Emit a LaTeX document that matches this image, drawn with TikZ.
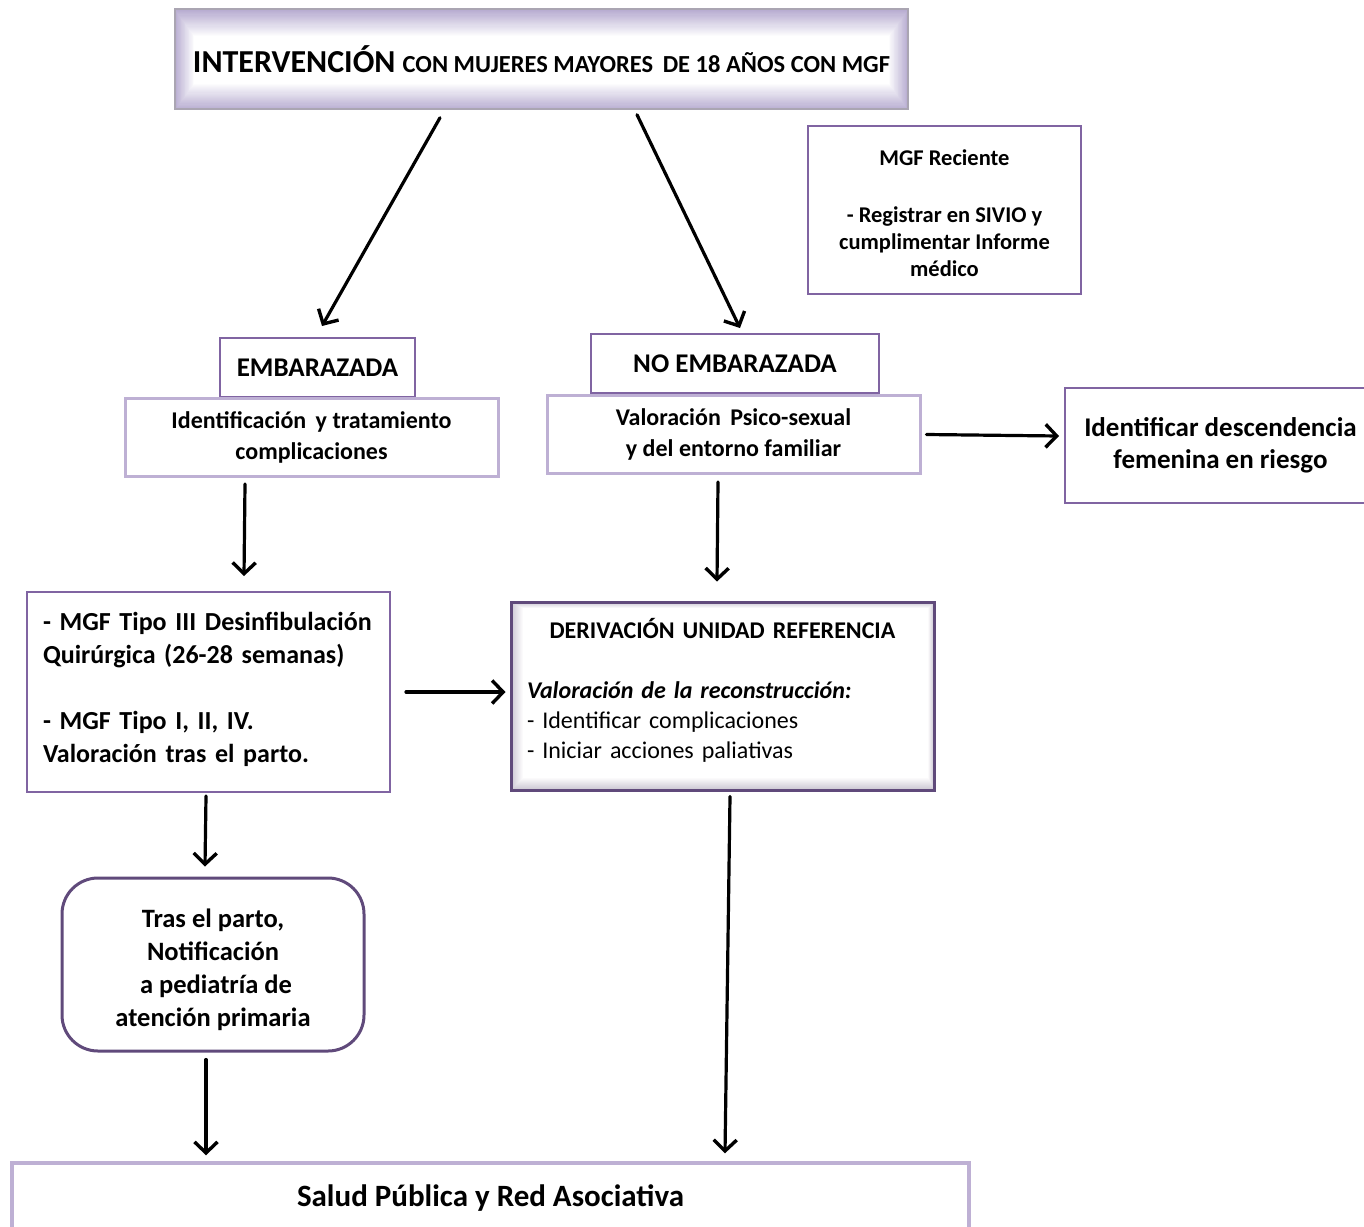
\documentclass[tikz,border=0pt]{standalone}
\usepackage{fontspec}
\setmainfont{Carlito}
\usetikzlibrary{arrows.meta,calc}
\definecolor{boxpurple}{RGB}{128,100,162}
\definecolor{darkpurple}{RGB}{96,74,123}
\definecolor{lavender}{RGB}{190,176,212}
\definecolor{glowc}{RGB}{176,164,204}
\definecolor{shadowc}{RGB}{150,140,165}
\definecolor{edgegray}{RGB}{170,165,178}
\newcommand{\fs}[2]{\fontsize{#1}{#2}\selectfont}
\tikzset{
  box/.style={draw=boxpurple, line width=2pt, fill=white, rectangle, inner sep=0pt, align=center, font=\bfseries},
  softbox/.style={draw=lavender, line width=3pt, fill=white, rectangle, inner sep=0pt, align=center, font=\bfseries},
  arr/.style={line width=3.2pt, line cap=round, line join=round, -{Straight Barb[length=11pt,width=23pt,line width=3.4pt]}},
}
\begin{document}
\begin{tikzpicture}[x=1pt,y=-1pt]
\useasboundingbox (0,0) rectangle (1364,1226);
\clip (0,0) rectangle (1364,1226);

% title box with soft inner glow
\foreach \i in {0,...,24}{
  \pgfmathsetmacro{\k}{90-\i*3.75}
  \fill[glowc!\k!white] (175+\i*0.8,10+\i*1.1) rectangle (908-\i*0.8,110-\i*1.1);
}
\node[rectangle, draw=edgegray, line width=1.5pt, minimum width=733pt, minimum height=100pt, inner sep=0pt] (top) at (541.5,59)
  {\bfseries\fs{32}{36}INTERVENCIÓN \fs{24.5}{28}CON MUJERES MAYORES\, DE 18 AÑOS CON MGF};

\node[box, minimum width=273pt, minimum height=168pt, font=\bfseries\fs{22.5}{27}] (rec) at (944.5,210)
  {\rule{0pt}{22pt}MGF Reciente\\[30pt]- Registrar en SIVIO y\\cumplimentar Informe\\médico};

\node[box, minimum width=195pt, minimum height=59pt, font=\bfseries\fs{27}{30}] (emb) at (317.5,367.5) {EMBARAZADA};
\node[softbox, minimum width=373pt, minimum height=78pt, font=\bfseries\fs{24}{31}] (idc) at (311.5,437.5)
  {Identificación\, y tratamiento\\complicaciones};

\node[box, minimum width=288pt, minimum height=59pt, font=\bfseries\fs{27}{30}] (noemb) at (735,363.5) {NO EMBARAZADA};
\node[softbox, minimum width=373pt, minimum height=78pt, font=\bfseries\fs{24}{31}] (val) at (733.5,434.5)
  {Valoración\, Psico-sexual\\y del entorno familiar};

\node[box, minimum width=311pt, minimum height=115pt, font=\bfseries\fs{27}{32}] (desc) at (1220.5,445)
  {Identificar descendencia\\femenina en riesgo};

\node[box, minimum width=363pt, minimum height=200pt, text width=331pt, align=left, font=\bfseries\fs{26}{33}] (tipo) at (208.5,692)
  {- MGF Tipo III Desinfibulación\\Quirúrgica (26-28 semanas)\\[33pt]- MGF Tipo I, II, IV.\\Valoración tras el parto.\\[-23pt]\mbox{}};

% referral box with inner shadow
\fill[white] (511,602) rectangle (934,790);
\foreach \i in {0,...,11}{
  \pgfmathsetmacro{\k}{48-\i*4}
  \fill[shadowc!\k!white] (511+\i*1.0,602+\i*0.5) rectangle (934-\i*0.5,790-\i*1.0);
}
\fill[white] (523,608) rectangle (928,778);
\node[rectangle, draw=darkpurple, line width=3pt, minimum width=423pt, minimum height=188pt, inner sep=0pt,
      text width=391pt, align=left, font=\fs{24}{30}] (deriv) at (722.5,696)
  {\makebox[391pt]{\bfseries DERIVACIÓN UNIDAD REFERENCIA}\\[30pt]
   \textbf{\textit{Valoración de la reconstrucción:}}\\
   - Identificar complicaciones\\
   - Iniciar acciones paliativas\\[-14pt]\mbox{}};

\node[rectangle, rounded corners=36pt, draw=darkpurple, line width=3pt, fill=white, minimum width=302pt, minimum height=173pt,
      inner sep=0pt, align=center, font=\bfseries\fs{26.5}{33}] (tras) at (213,964.5)
  {\rule{0pt}{30pt}Tras el parto,\\Notificación\\\ a pediatría de\\atención primaria};

\node[rectangle, draw=lavender, line width=3.5pt, fill=white, minimum width=957pt, minimum height=70pt, inner sep=0pt,
      font=\bfseries\fs{31}{34}] (salud) at (490.5,1198) {Salud Pública y Red Asociativa};

% connectors
\draw[arr] ([shift={(-101.5,8)}]top.south) -- ([shift={(4.5,-11)}]emb.north);
\draw[arr] ([shift={(95.5,5)}]top.south) -- ([shift={(5,-5)}]noemb.north);
\draw[arr] ([shift={(5,0)}]val.east) -- ([shift={(-5,-9)}]desc.west);
\draw[arr] ([shift={(-66.5,6)}]idc.south) -- ([shift={(35.5,-15)}]tipo.north);
\draw[arr] ([shift={(-15.5,7)}]val.south) -- ([shift={(-5.5,-19)}]deriv.north);
\draw[arr] ([shift={(15,0)}]tipo.east) -- ([shift={(-4,-4)}]deriv.west);
\draw[arr] ([shift={(-2.5,3)}]tipo.south) -- ([shift={(-8,-10)}]tras.north);
\draw[arr] ([shift={(7.5,5)}]deriv.south) -- ([shift={(234.5,-8)}]salud.north);
\draw[arr] ([shift={(-7,7)}]tras.south) -- ([shift={(-284.5,-6)}]salud.north);
\end{tikzpicture}
\end{document}
